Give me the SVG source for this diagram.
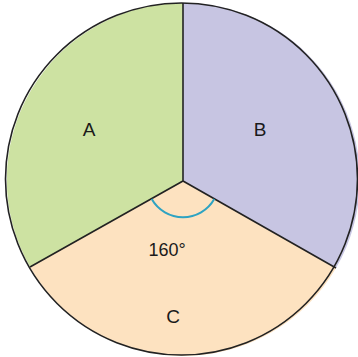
<svg xmlns="http://www.w3.org/2000/svg" width="358" height="357" viewBox="0 0 358 357">
<style>
.sec{stroke:none}
.lbl{font-family:"Liberation Sans",Arial,sans-serif;font-size:19px;fill:#1a1a1a;text-anchor:middle}
.deg{font-size:18px}
.edge{stroke:#222;stroke-width:1.6;fill:none}
</style>
<rect width="358" height="357" fill="#ffffff"/>
<g id="sectorA">
<path class="sec" d="M183,181 L183,3 A176.5,176.5 0 0 0 30,267 Z" fill="#cde2a2"/>
<text class="lbl" x="89" y="136">A</text>
</g>
<g id="sectorB">
<path class="sec" d="M183,181 L183,3 A176.5,176.5 0 0 1 336,268 Z" fill="#c7c5e2"/>
<text class="lbl" x="260" y="136">B</text>
</g>
<g id="sectorC">
<path class="sec" d="M183,181 L336,268 A176.5,176.5 0 0 1 30,267 Z" fill="#fde2c0"/>
<text class="lbl deg" x="167" y="256">160°</text>
<text class="lbl" x="173" y="323">C</text>
</g>
<g id="connectors">
<circle class="edge" cx="181.5" cy="179" r="176"/>
<path class="edge" d="M183,3 L183,181 M30,267 L183,181 L336,268"/>
<path d="M151.7,199 A36,36 0 0 0 214.3,199" stroke="#2ea3c2" stroke-width="2" fill="none"/>
</g>
</svg>
